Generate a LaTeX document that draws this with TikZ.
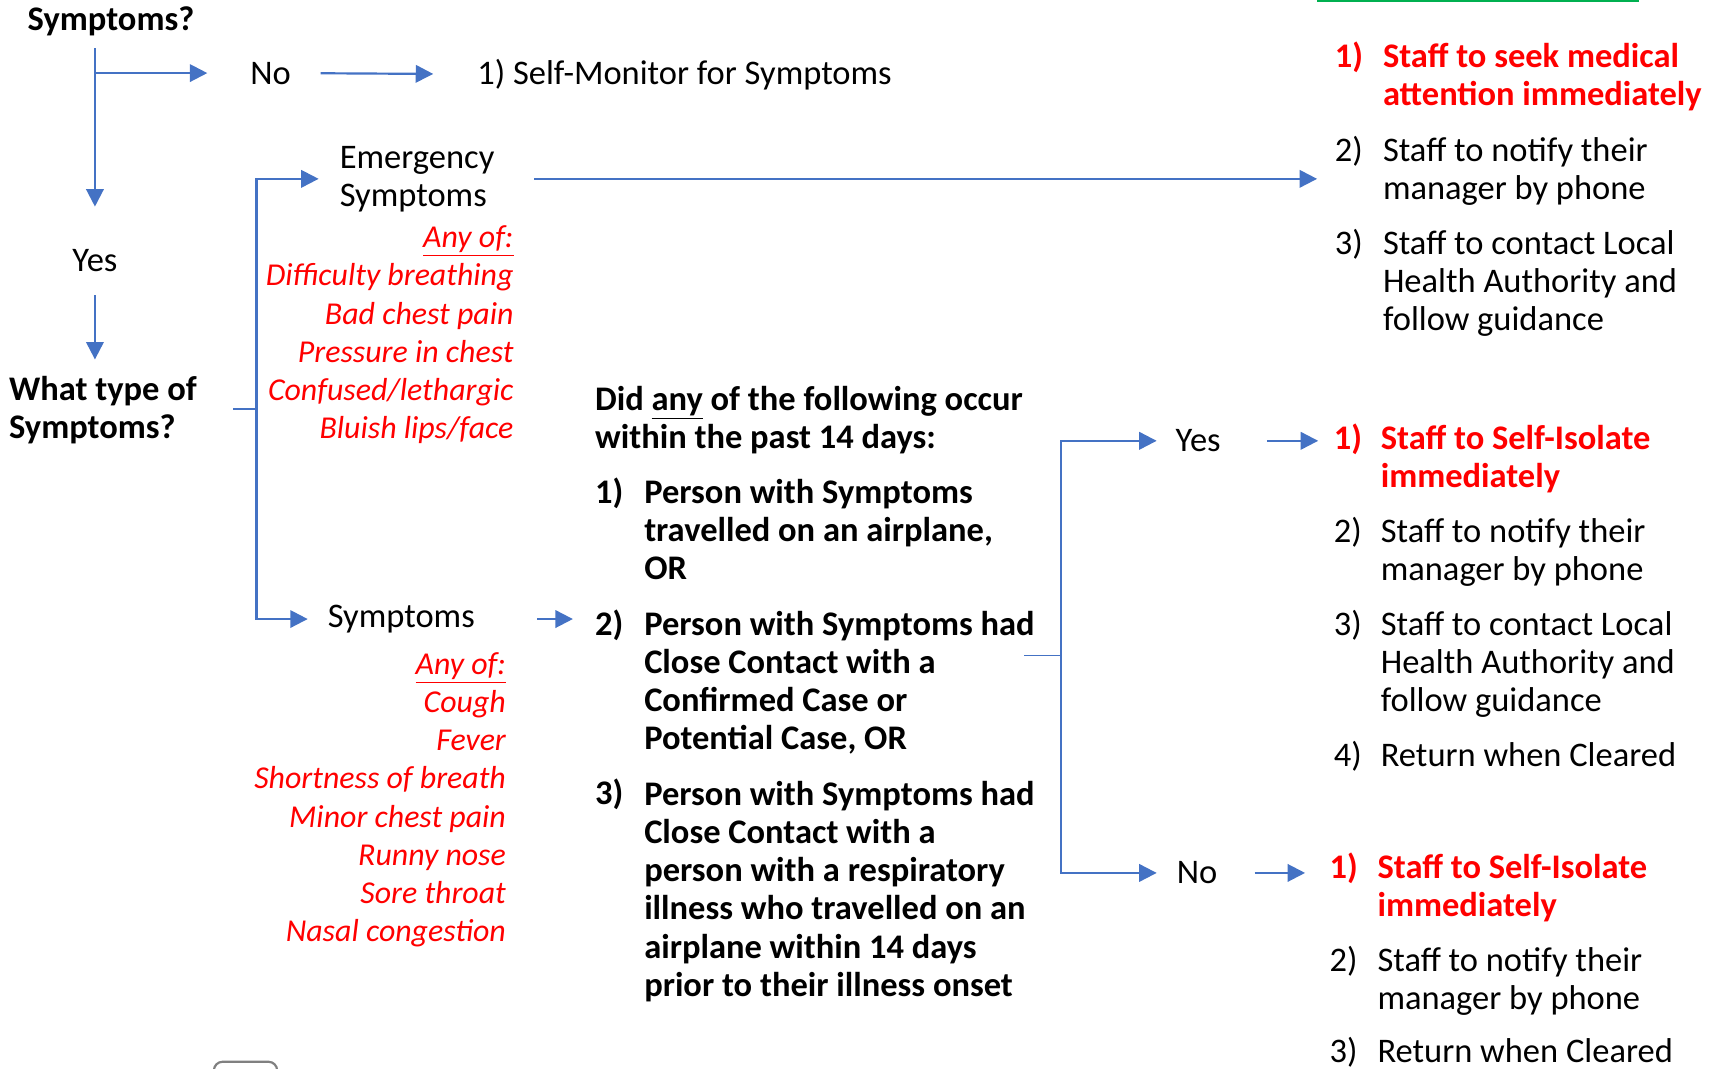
\documentclass[tikz,border=0pt]{standalone}
\usepackage{fontspec}
\setmainfont{Carlito}
\usetikzlibrary{arrows.meta}
\definecolor{flow}{HTML}{4472C4}
\definecolor{alert}{HTML}{FF0000}
\definecolor{tag}{HTML}{00B050}
\newcommand\fs{\fontsize{15.8}{17.5}\selectfont}
\newcommand\fsi{\fontsize{14.6}{17.5}\selectfont}
\tikzset{
  txt/.style={inner sep=0pt, anchor=base west, align=left, font=\fs},
  hd/.style={txt, font=\fs\bfseries},
  warn/.style={txt, text=alert, font=\fs\bfseries},
  sym/.style={txt, anchor=base east, align=right, text=alert, font=\fsi\itshape},
  link/.style={draw=flow, line width=1pt},
  arr/.style={link, -{Triangle[length=8pt,width=8pt]}},
}
\begin{document}
\begin{tikzpicture}[x=0.5pt, y=-0.5pt]
    \clip (0,0) rectangle (1568,979);
    \draw[tag, line width=1.5pt] (1207,0) -- (1502,0);
    \draw[gray, line width=1pt, rounded corners=4pt] (196,990) -- (196,973) -- (254,973) -- (254,990);
    % left column
    \node[hd] (q1) at (25,28) {Symptoms?};
    \node[txt] (no1) at (229,77) {No};
    \node[txt] (mon) at (437,77) {1) Self-Monitor for Symptoms};
    \node[txt] (yes1) at (66,249) {Yes};
    \node[hd] (q2) at (8,402) {What type of\\Symptoms?};
    \draw[arr, shorten <=5.5pt, shorten >=19.5pt] (q1.south -| yes1.north) -- (yes1.north);
    \draw[arr, shorten >=19.5pt] (yes1 |- no1.west) -- (no1.west);
    \draw[arr, shorten <=13.5pt, shorten >=20pt] (no1.east) -- (mon.west);
    \draw[arr, shorten <=10.5pt, shorten >=7.5pt] (yes1.south) -- (yes1.south |- q2.north);
    % symptom types
    \node[txt] (em) at (311,189) {Emergency\\Symptoms};
    \node[sym] (emlist) at (471,402) {\underline{Any of:}\\Difficulty breathing\\Bad chest pain\\Pressure in chest\\Confused/lethargic\\Bluish lips/face};
    \node[txt] (sy) at (300,575) {Symptoms};
    \node[sym] (sylist) at (464,863) {\underline{Any of:}\\Cough\\Fever\\Shortness of breath\\Minor chest pain\\Runny nose\\Sore throat\\Nasal congestion};
    \coordinate (br) at (235,375);
    \draw[link, shorten <=16.5pt] (q2.east |- br) -- (br);
    \draw[arr, shorten >=9.5pt] (br |- sy.west) |- (em.west);
    \draw[arr, shorten >=9pt] (br |- em.west) |- (sy.west);
    % emergency actions
    \node[warn] (a1n) at (1223,62) {1)};
    \node[warn] (a1) at (1267,97) {Staff to seek medical\\attention immediately};
    \node[txt] (a2n) at (1223,148) {2)};
    \node[txt] (a2) at (1267,183) {Staff to notify their\\manager by phone};
    \node[txt] (a3n) at (1223,233) {3)};
    \node[txt] (a3) at (1267,303) {Staff to contact Local\\Health Authority and\\follow guidance};
    \draw[arr, shorten <=18pt, shorten >=8pt] (em.east) -- (em.east -| a2n.west);
    % exposure questions
    \node[hd] (q3) at (545,411) {Did \underline{any} of the following occur\\within the past 14 days:};
    \node[hd] (b1n) at (545,461) {1)};
    \node[hd] (b1) at (590,531) {Person with Symptoms\\travelled on an airplane,\\OR};
    \node[hd] (b2n) at (545,582) {2)};
    \node[hd] (b2) at (590,687) {Person with Symptoms had\\Close Contact with a\\Confirmed Case or\\Potential Case, OR};
    \node[hd] (b3n) at (545,737) {3)};
    \node[hd] (b3) at (590,913) {Person with Symptoms had\\Close Contact with a\\person with a respiratory\\illness who travelled on an\\airplane within 14 days\\prior to their illness onset};
    \draw[arr, shorten <=28.5pt, shorten >=10pt] (sy.east) -- (sy.east -| b2n.west);
    % yes / no
    \node[txt] (yes2) at (1077,414) {Yes};
    \node[txt] (no2) at (1078,810) {No};
    \coordinate (jn) at (972,601);
    \draw[draw=flow, line width=0.6pt] (jn) -- ++(-34,0);
    \draw[arr, shorten >=8.5pt] (jn) |- (yes2.west);
    \draw[arr, shorten >=9pt] (jn) |- (no2.west);
    \node[warn] (c1n) at (1222,412) {1)};
    \node[warn] (c1) at (1265,447) {Staff to Self-Isolate\\immediately};
    \node[txt] (c2n) at (1222,497) {2)};
    \node[txt] (c2) at (1265,532) {Staff to notify their\\manager by phone};
    \node[txt] (c3n) at (1222,582) {3)};
    \node[txt] (c3) at (1265,652) {Staff to contact Local\\Health Authority and\\follow guidance};
    \node[txt] (c4n) at (1222,702) {4)};
    \node[txt] (c4) at (1265,702) {Return when Cleared};
    \draw[arr, shorten <=21pt, shorten >=7pt] (yes2.east) -- (yes2.east -| c1n.west);
    \node[warn] (d1n) at (1218,805) {1)};
    \node[warn] (d1) at (1262,840) {Staff to Self-Isolate\\immediately};
    \node[txt] (d2n) at (1218,890) {2)};
    \node[txt] (d2) at (1262,925) {Staff to notify their\\manager by phone};
    \node[txt] (d3n) at (1218,974) {3)};
    \node[txt] (d3) at (1262,974) {Return when Cleared};
    \draw[arr, shorten <=17pt, shorten >=11pt] (no2.east) -- (no2.east -| d1n.west);
\end{tikzpicture}
\end{document}
